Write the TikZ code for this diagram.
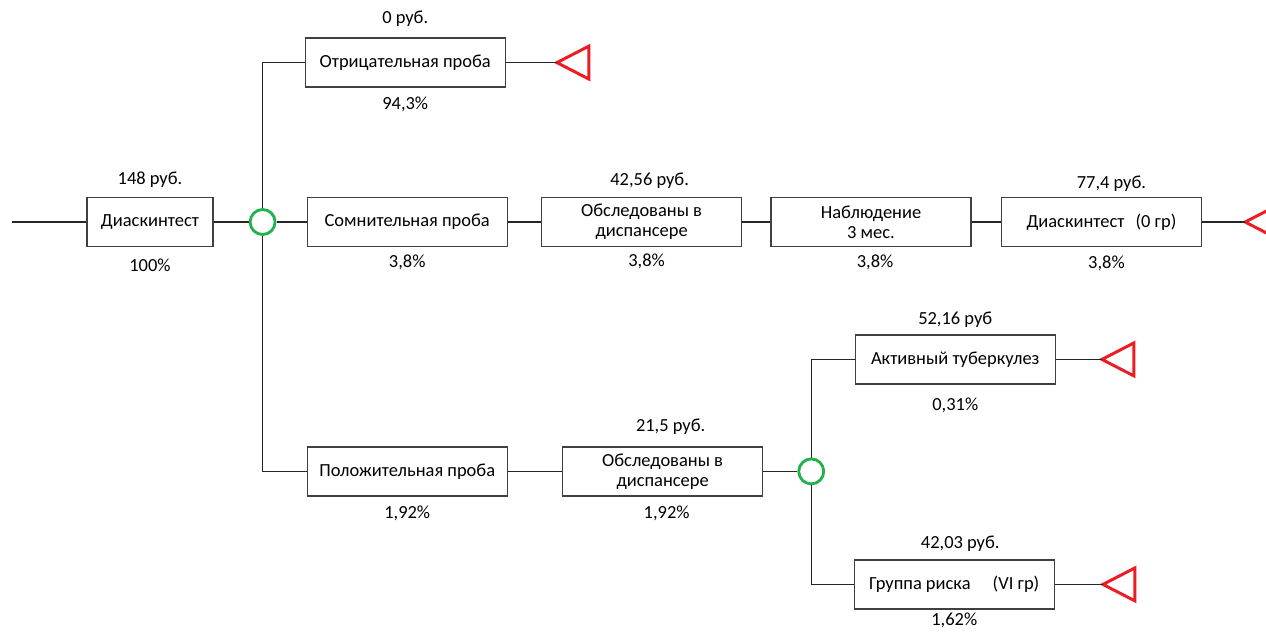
\documentclass[tikz,border=0pt]{standalone}
\usepackage{fontspec}
\setmainfont{Carlito}
\usetikzlibrary{positioning,calc}
\definecolor{nodegreen}{RGB}{34,177,76}
\definecolor{endred}{RGB}{237,28,36}

\begin{document}
\begin{tikzpicture}[
    font=\fontsize{10.5}{11.5}\selectfont,
    box/.style={rectangle, draw=black!75, line width=0.8pt, minimum width=4cm,
                minimum height=0.98cm, align=center, inner sep=2pt},
    chance/.style={circle, draw=nodegreen, line width=1.6pt, minimum size=0.5cm, inner sep=0pt},
    link/.style={black!85, line width=0.7pt},
    term/.style={draw=endred, line width=1.7pt, line join=miter},
    cost/.style={inner sep=1pt},
    prob/.style={inner sep=1pt}
  ]
    \useasboundingbox (0,0) rectangle (25.32,-12.7);

    % main row
    \coordinate (start) at (0.24,-4.44);
    \node[box, minimum width=2.52cm] (diag) at (3.0,-4.44) {Диаскинтест};
    \node[chance, right=0.7cm of diag] (c1) {};
    \node[box, right=0.6cm of c1] (doubt) {Сомнительная проба};
    \node[box, above=2.18cm of doubt, xshift=-0.04cm] (neg) {Отрицательная проба};
    \node[box, below=3.98cm of doubt] (pos) {Положительная проба};
    \node[box, right=0.66cm of doubt] (exam1) {Обследованы в\\диспансере};
    \node[box, right=0.56cm of exam1] (watch) {Наблюдение\\3 мес.};
    \node[box, right=0.58cm of watch] (diag2) {Диаскинтест\hspace{0.6em}(0 гр)};

    % positive branch
    \node[box, right=1.08cm of pos] (exam2) {Обследованы в\\диспансере};
    \node[chance, right=0.68cm of exam2] (c2) {};
    \node[box] (tb) at ($(c2)+(2.88,2.24)$) {Активный туберкулез};
    \node[box] (risk) at ($(c2)+(2.86,-2.26)$) {Группа риска\hspace{1.2em}(VI гр)};

    % end points
    \coordinate[right=1.02cm of neg] (neg-end);
    \coordinate[right=0.86cm of diag2] (diag2-end);
    \coordinate[right=0.92cm of tb] (tb-end);
    \coordinate[right=0.96cm of risk] (risk-end);
    \foreach \t in {neg-end,diag2-end,tb-end,risk-end}
      \draw[term] (\t) -- ++(0.64,0.33) -- ++(0,-0.66) -- cycle;

    % costs and probabilities
    \node[cost, above=0.14cm of diag] (diag-cost) {148 руб.};
    \node[prob, below=0.2cm of diag] (diag-prob) {100\%};
    \node[cost, above=0.18cm of neg] (neg-cost) {0 руб.};
    \node[prob, below=0.14cm of neg] (neg-prob) {94,3\%};
    \node[prob, below=0.12cm of doubt] (doubt-prob) {3,8\%};
    \node[cost, above=0.12cm of exam1, xshift=0.16cm] (exam1-cost) {42,56 руб.};
    \node[prob, below=0.1cm of exam1, xshift=0.1cm] (exam1-prob) {3,8\%};
    \node[prob, below=0.12cm of watch, xshift=0.08cm] (watch-prob) {3,8\%};
    \node[cost, above=0.06cm of diag2, xshift=0.2cm] (diag2-cost) {77,4 руб.};
    \node[prob, below=0.14cm of diag2, xshift=0.1cm] (diag2-prob) {3,8\%};
    \node[prob, below=0.14cm of pos] (pos-prob) {1,92\%};
    \node[cost, above=0.2cm of exam2, xshift=0.16cm] (exam2-cost) {21,5 руб.};
    \node[prob, below=0.14cm of exam2, xshift=0.08cm] (exam2-prob) {1,92\%};
    \node[cost, above=0.1cm of tb] (tb-cost) {52,16 руб};
    \node[prob, below=0.22cm of tb] (tb-prob) {0,31\%};
    \node[cost, above=0.12cm of risk, xshift=0.12cm] (risk-cost) {42,03 руб.};
    \node[prob, below=0.02cm of risk] (risk-prob) {1,62\%};

    % connectors
    \draw[link] (start) -- (diag);
    \draw[link] (diag) -- (c1);
    \draw[link] (c1) |- (neg);
    \draw[link] (c1) -- (doubt);
    \draw[link] (c1) |- (pos);
    \draw[link] (neg) -- (neg-end);
    \draw[link] (doubt) -- (exam1);
    \draw[link] (exam1) -- (watch);
    \draw[link] (watch) -- (diag2);
    \draw[link] (diag2) -- (diag2-end);
    \draw[link] (pos) -- (exam2);
    \draw[link] (exam2) -- (c2);
    \draw[link] (c2) |- (tb);
    \draw[link] (c2) |- (risk);
    \draw[link] (tb) -- (tb-end);
    \draw[link] (risk) -- (risk-end);
  \end{tikzpicture}
\end{document}
